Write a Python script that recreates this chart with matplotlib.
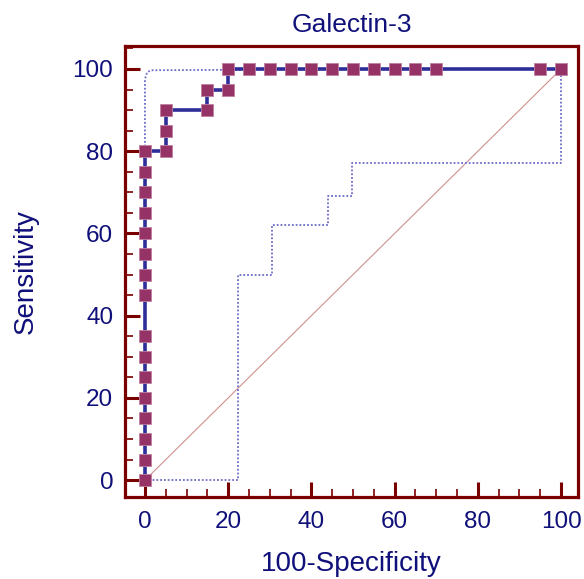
import matplotlib.pyplot as plt
from matplotlib.ticker import MultipleLocator

# ROC points (100-Specificity, Sensitivity)
fpr = [0, 0, 0, 0, 0, 0, 0, 0, 0, 0, 0, 0, 0, 0, 0, 0,
       5, 5, 5, 15, 15, 20, 20, 25, 30, 35, 40, 45, 50, 55, 60, 65, 70, 95, 100]
tpr = [0, 5, 10, 15, 20, 25, 30, 35, 45, 50, 55, 60, 65, 70, 75, 80,
       80, 85, 90, 90, 95, 95, 100, 100, 100, 100, 100, 100, 100, 100, 100, 100, 100, 100, 100]

# 95% confidence bounds
upper_x = [0, 0, 0.5, 1.5, 20, 100]
upper_y = [0, 97.5, 99.2, 99.7, 99.8, 100]
lower_x = [0, 22.4, 22.4, 30.6, 30.6, 44, 44, 49.7, 49.7, 99.9, 99.9]
lower_y = [0, 0, 50, 50, 62, 62, 69, 69, 77.2, 77.2, 100]

frame_col = '#7a0000'
text_col = '#10107a'

plt.rcParams['font.family'] = ['Liberation Sans', 'DejaVu Sans']

fig = plt.figure(figsize=(5.84, 5.79), dpi=100)
ax = fig.add_axes([0.214, 0.1416, 0.776, 0.779])

ax.plot([0, 100], [0, 100], color='#d09090', lw=0.8, zorder=1)
ax.plot(upper_x, upper_y, color='#6c6cc8', lw=1.3, ls=(0, (1, 1.1)), zorder=2)
ax.plot(lower_x, lower_y, color='#6c6cc8', lw=1.3, ls=(0, (1, 1.1)), zorder=2)
ax.plot(fpr, tpr, color='#2e2e9a', lw=2.6, zorder=3,
        marker='s', markersize=9, markerfacecolor='#963366',
        markeredgecolor='#c080a0', markeredgewidth=0.6)

ax.set_xlim(-4.8, 104.1)
ax.set_ylim(-4.1, 105.6)
ax.xaxis.set_major_locator(MultipleLocator(20))
ax.xaxis.set_minor_locator(MultipleLocator(5))
ax.yaxis.set_major_locator(MultipleLocator(20))
ax.yaxis.set_minor_locator(MultipleLocator(5))

for s in ax.spines.values():
    s.set_color(frame_col)
    s.set_linewidth(2.3)

ax.tick_params(which='major', direction='in', length=11, width=2.2,
               color=frame_col, labelcolor=text_col, labelsize=17.5)
ax.tick_params(axis='y', which='major', pad=8.5)
ax.tick_params(axis='x', which='major', pad=10)
ax.tick_params(which='minor', direction='in', length=6, width=1.2, color=frame_col)

ax.set_title('Galectin-3', color=text_col, fontsize=19, pad=10)
ax.set_xlabel('100-Specificity', color=text_col, fontsize=20, labelpad=13)
ax.set_ylabel('Sensitivity', color=text_col, fontsize=20, labelpad=24)

fig.savefig('out.png', dpi=100)
